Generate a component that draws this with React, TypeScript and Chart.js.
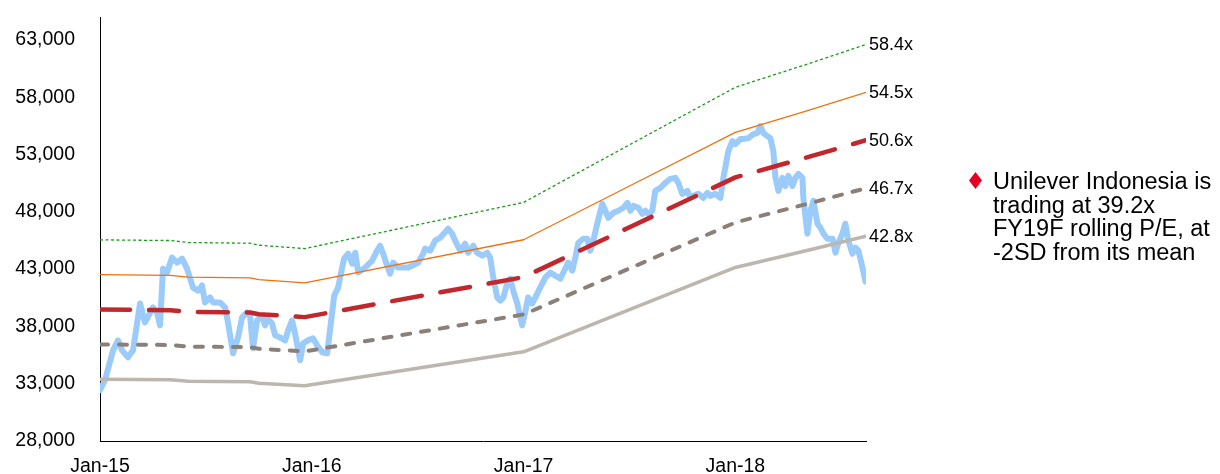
import { useEffect, useRef } from "react";
import { Chart, registerables } from "chart.js";

Chart.register(...registerables);

const FONT = '"Liberation Sans", Arial, Helvetica, sans-serif';

// Axis ticks (x in months since Jan-15)
const yTicks = [28000, 33000, 38000, 43000, 48000, 53000, 58000, 63000];
const xTickMonths = [0, 12, 24, 36];
const xTickLabels = ["Jan-15", "Jan-16", "Jan-17", "Jan-18"];

// Rolling forward EPS (IDR) used to build the P/E bands
const epsMonths = [0, 4, 5, 8.5, 9, 11.6, 24, 30, 36, 40, 43.4];
const epsValues = [780, 779, 776, 775, 772, 767, 836, 922, 1008, 1042, 1072];

// P/E band multiples: +2SD, +1SD, mean, -1SD, -2SD
const bandMultiples = [58.4, 54.5, 50.6, 46.7, 42.8];

// Share price (IDR)
const priceMonths = [
  0.0, 0.28, 0.74, 1.02, 1.25, 1.59, 1.87, 2.27, 2.55, 3.0, 3.23, 3.4, 3.57, 3.8, 4.08, 4.37, 4.65, 4.93,
  5.27, 5.56, 5.78, 5.95, 6.24, 6.41, 6.8, 7.09, 7.26, 7.54, 7.82, 8.05, 8.33, 8.5, 8.67, 8.9, 9.18, 9.35,
  9.47, 9.75, 9.92, 10.2, 10.49, 10.66, 10.88, 11.05, 11.34, 11.51, 11.79, 12.07, 12.3, 12.59, 12.87, 13.1,
  13.27, 13.49, 13.66, 13.83, 14.06, 14.29, 14.46, 14.63, 15.02, 15.42, 15.7, 15.87, 16.04, 16.27, 16.44,
  16.61, 16.89, 17.46, 18.03, 18.31, 18.42, 18.71, 18.99, 19.27, 19.73, 19.95, 20.12, 20.41, 20.69, 20.86,
  21.15, 21.37, 21.66, 21.94, 22.11, 22.28, 22.51, 22.68, 22.85, 23.07, 23.24, 23.41, 23.64, 23.81, 23.92,
  24.09, 24.26, 24.49, 24.66, 24.94, 25.23, 25.51, 25.79, 26.08, 26.25, 26.53, 26.76, 26.93, 27.1, 27.38,
  27.61, 27.78, 27.95, 28.17, 28.46, 28.63, 28.8, 29.08, 29.37, 29.65, 29.88, 30.05, 30.22, 30.5, 30.73,
  30.9, 31.07, 31.29, 31.46, 31.75, 32.03, 32.31, 32.6, 32.77, 32.99, 33.28, 33.45, 33.62, 33.9, 34.18,
  34.41, 34.58, 34.86, 35.15, 35.32, 35.6, 35.83, 36.0, 36.28, 36.45, 36.73, 37.02, 37.24, 37.41, 37.59,
  37.81, 37.98, 38.15, 38.27, 38.44, 38.66, 38.83, 39.0, 39.23, 39.4, 39.57, 39.8, 39.85, 40.08, 40.25,
  40.42, 40.65, 40.82, 40.99, 41.21, 41.5, 41.67, 41.84, 42.06, 42.23, 42.4, 42.63, 42.8, 42.97, 43.2, 43.37,
];
const priceValues = [
  32430, 33300, 35910, 36780, 35910, 35300, 35910, 40000, 38350, 39650, 39220, 38090, 43040, 42700, 44000, 43570, 43910, 43040,
  41390, 41130, 41570, 40090, 40520, 40090, 40090, 39650, 38260, 35650, 37040, 38780, 39220, 38960, 36090, 38520, 38870, 38090,
  38700, 38260, 37220, 37040, 36780, 37650, 38520, 37390, 35040, 36520, 36780, 36960, 36350, 35740, 35650, 38520,
  40700, 41390, 42700, 43910, 44350, 43480, 44430, 42700, 43130, 43740, 44610, 45040, 44350, 43300, 42610,
  43570, 43130, 43130, 43570, 44350, 44780, 44610, 45480, 45740, 46520, 46090, 45480, 44610, 45220, 44430,
  45040, 44430, 44170, 44430, 44000, 42260, 40520, 40260, 40520, 41740, 42170, 41130, 40000, 38780, 38090,
  39220, 40520, 40000, 40520, 41390, 42260, 42700, 42430, 42170, 42700, 43570, 42870, 44000, 45300, 45650,
  45650, 44610, 45480, 46960, 48700, 48090, 47480, 47910, 48090, 48350, 48780, 48090, 48520, 48350, 47830,
  48090, 47830, 48090, 49830, 50090, 50520, 50870, 50960, 50520, 49570, 49830, 49220, 49390, 49570, 49220,
  49650, 49390, 49570, 49220, 50960, 53300, 54170, 53910, 54350, 54350, 54430, 54780, 54870, 55480, 54870,
  54610, 54430, 53300, 50960, 49830, 50960, 50260, 51130, 50260, 50960, 51300, 50960, 49220, 46090, 48090,
  48960, 46960, 46610, 46090, 45650, 45650, 44430, 45300, 46090, 46960, 45480, 44350, 44870, 44610, 43130, 41910,
];

// Line style for each band, in the same order as bandMultiples
const bandStyles = [
  { color: "#1c9c1c", width: 1.3, dash: [3, 2.5], cap: "butt" },
  { color: "#f0700f", width: 1.3, dash: [], cap: "butt" },
  { color: "#c0282d", width: 4.5, dash: [30, 19], cap: "round" },
  { color: "#8a8079", width: 4, dash: [8, 11], cap: "round" },
  { color: "#bdb6af", width: 3.5, dash: [], cap: "round" },
];

// Writes each band's multiple just past the end of its line
const bandLabelPlugin = {
  id: "bandLabels",
  afterDatasetsDraw(chart: any) {
    const ctx = chart.ctx;
    ctx.save();
    ctx.font = `18px ${FONT}`;
    ctx.fillStyle = "#000";
    ctx.textAlign = "left";
    ctx.textBaseline = "middle";
    chart.data.datasets.forEach((ds: any, i: number) => {
      if (!ds.bandLabel) return;
      const meta = chart.getDatasetMeta(i);
      const last = meta.data[meta.data.length - 1];
      if (!last) return;
      ctx.fillText(ds.bandLabel, last.x + 3, last.y + 1);
    });
    ctx.restore();
  },
};

export default function App() {
  const canvasRef = useRef<HTMLCanvasElement>(null);

  useEffect(() => {
    document.body.style.margin = "0";
    const canvas = canvasRef.current;
    if (!canvas) return;

    const bandDatasets = bandMultiples.map((mult, k) => {
      const s = bandStyles[k];
      return {
        label: `${mult.toFixed(1)}x band`,
        bandLabel: `${mult.toFixed(1)}x`,
        data: epsMonths.map((m, i) => ({ x: m, y: epsValues[i] * mult })),
        borderColor: s.color,
        borderWidth: s.width,
        borderDash: s.dash,
        borderCapStyle: s.cap,
        borderJoinStyle: "round",
        pointRadius: 0,
        tension: 0,
        fill: false,
        order: k,
      };
    });

    const priceDataset = {
      label: "Share price",
      data: priceMonths.map((m, i) => ({ x: m, y: priceValues[i] })),
      borderColor: "#9bcbfa",
      borderWidth: 6,
      borderCapStyle: "round",
      borderJoinStyle: "round",
      pointRadius: 0,
      tension: 0,
      fill: false,
      order: 10,
    };

    const chart = new Chart(canvas, {
      type: "line",
      data: { datasets: [...bandDatasets, priceDataset] as any },
      options: {
        animation: false,
        responsive: false,
        events: [],
        layout: { padding: { top: 17, right: 354, left: 0, bottom: 0 } },
        plugins: { legend: { display: false }, tooltip: { enabled: false } },
        scales: {
          x: {
            type: "linear",
            min: 0,
            max: 43.4,
            grid: { display: false, drawTicks: false },
            border: { display: true, color: "#000", width: 1 },
            afterBuildTicks: (scale: any) => {
              scale.ticks = xTickMonths.map((v) => ({ value: v }));
            },
            afterFit: (scale: any) => {
              scale.height = 33;
              scale.paddingLeft = 0;
              scale.paddingRight = 0;
            },
            ticks: {
              color: "#000",
              font: { family: FONT, size: 19.5 },
              padding: 14,
              maxRotation: 0,
              autoSkip: false,
              callback: (_v: any, index: number) => xTickLabels[index],
            },
          },
          y: {
            type: "linear",
            min: 28000,
            max: 65000,
            grid: { display: false, drawTicks: false },
            border: { display: true, color: "#000", width: 1 },
            afterBuildTicks: (scale: any) => {
              scale.ticks = yTicks.map((v) => ({ value: v }));
            },
            afterFit: (scale: any) => {
              scale.width = 100;
              scale.paddingTop = 0;
              scale.paddingBottom = 0;
            },
            ticks: {
              color: "#000",
              font: { family: FONT, size: 19.5 },
              padding: 25,
              callback: (v: any) => Number(v).toLocaleString("en-US"),
            },
          },
        },
      } as any,
      plugins: [bandLabelPlugin],
    });

    return () => chart.destroy();
  }, []);

  return (
    <div style={{ position: "relative", width: 1220, height: 474, overflow: "hidden", background: "#fff" }}>
      <canvas ref={canvasRef} width={1220} height={474} style={{ position: "absolute", left: 0, top: 0 }} />
      <div
        style={{
          position: "absolute",
          left: 969,
          top: 172,
          width: 13,
          height: 17,
          background: "#e60026",
          clipPath: "polygon(50% 0, 100% 50%, 50% 100%, 0 50%)",
        }}
      />
      <div
        style={{
          position: "absolute",
          left: 993,
          top: 170,
          fontFamily: FONT,
          fontSize: 23.5,
          lineHeight: "23.5px",
          color: "#000",
          whiteSpace: "nowrap",
        }}
      >
        Unilever Indonesia is
        <br />
        trading at 39.2x
        <br />
        FY19F rolling P/E, at
        <br />
        -2SD from its mean
      </div>
    </div>
  );
}
